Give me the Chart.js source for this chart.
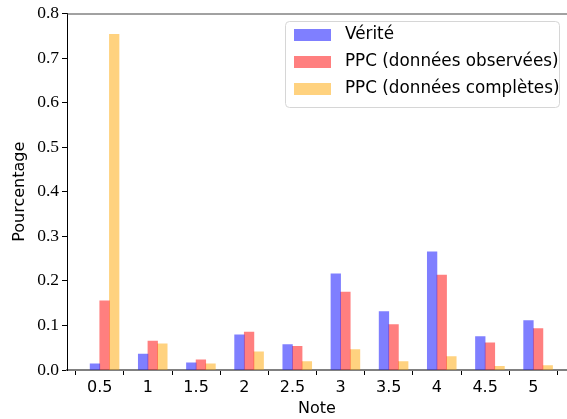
<!DOCTYPE html>
<html>
<head>
<meta charset="utf-8">
<script src="https://cdn.jsdelivr.net/npm/chart.js@4"></script>
<style>
  html, body { margin: 0; padding: 0; background: #fff; overflow: hidden; }
  #wrap { width: 567px; height: 419px; }
</style>
</head>
<body>
<div id="wrap"><canvas id="barChart" width="567" height="419"></canvas></div>
<script>
// notes (x ticks) and the three series
const notes = [0.5, 1, 1.5, 2, 2.5, 3, 3.5, 4, 4.5, 5];
const verite = [0.014, 0.036, 0.016, 0.079, 0.057, 0.216, 0.131, 0.265, 0.075, 0.111];
const ppcObs = [0.155, 0.065, 0.023, 0.085, 0.053, 0.175, 0.102, 0.213, 0.061, 0.093];
const ppcComp = [0.753, 0.059, 0.014, 0.041, 0.019, 0.046, 0.019, 0.030, 0.008, 0.010];
const yTicks = [0, 0.1, 0.2, 0.3, 0.4, 0.5, 0.6, 0.7, 0.8];

const labels = ['Vérité', 'PPC (données observées)', 'PPC (données complètes)'];
const colors = ['rgba(0, 0, 255, 0.5)', 'rgba(255, 0, 0, 0.5)', 'rgba(255, 165, 0, 0.5)'];

// bars are 0.1 wide, blue sits left of the note, red and yellow to the right
const barW = 0.1;
function series(values, shift) {
  return values.map((v, i) => ({ x: notes[i] + shift, y: v }));
}

const frameAndLegend = {
  id: 'frameAndLegend',
  afterDatasetsDraw(chart) {
    const ctx = chart.ctx;
    const area = chart.chartArea;
    ctx.save();
    // top spine
    ctx.strokeStyle = '#444';
    ctx.lineWidth = 1;
    ctx.beginPath();
    ctx.moveTo(area.left, area.top + 0.5);
    ctx.lineTo(area.right, area.top + 0.5);
    ctx.stroke();

    // legend box
    const bx = 285, by = 21, bw = 274, bh = 86, r = 4;
    ctx.beginPath();
    ctx.roundRect(bx + 0.5, by + 0.5, bw, bh, r);
    ctx.fillStyle = 'rgba(255,255,255,0.8)';
    ctx.fill();
    ctx.strokeStyle = '#d6d6d6';
    ctx.stroke();

    ctx.font = '16.8px "DejaVu Sans"';
    ctx.textBaseline = 'middle';
    ctx.textAlign = 'left';
    chart.data.datasets.forEach((ds, i) => {
      const cy = 35 + i * 27;
      ctx.fillStyle = ds.backgroundColor;
      ctx.fillRect(294, cy - 6, 37, 12);
      ctx.fillStyle = '#000';
      ctx.fillText(ds.label, 345, cy);
    });
    ctx.restore();
  }
};

new Chart(document.getElementById('barChart').getContext('2d'), {
  type: 'bar',
  data: {
    datasets: [
      { label: labels[0], data: series(verite, -barW / 2), backgroundColor: colors[0] },
      { label: labels[1], data: series(ppcObs, barW / 2), backgroundColor: colors[1] },
      { label: labels[2], data: series(ppcComp, barW * 1.5), backgroundColor: colors[2] }
    ]
  },
  options: {
    responsive: false,
    animation: false,
    grouped: false,
    categoryPercentage: 1,
    barPercentage: 1,
    layout: {
      padding: { top: 12, bottom: 0, left: 0, right: 0 }
    },
    plugins: {
      legend: { display: false },
      tooltip: { enabled: false }
    },
    scales: {
      x: {
        type: 'linear',
        offset: false,
        min: 0.16,
        max: 5.35,
        afterBuildTicks: (scale) => { scale.ticks = notes.map(v => ({ value: v })); },
        afterFit: (scale) => { scale.height = 49; },
        grid: { drawOnChartArea: false, drawTicks: true, tickLength: 5, color: '#000' },
        border: { color: '#808080', width: 2 },
        ticks: {
          color: '#000',
          padding: 3,
          font: { family: 'DejaVu Sans', size: 16 },
          callback: (v) => String(v)
        },
        title: {
          display: true,
          text: 'Note',
          color: '#000',
          font: { family: 'DejaVu Sans', size: 16 },
          padding: { top: 0, bottom: 1 }
        }
      },
      y: {
        min: 0,
        max: 0.8,
        afterBuildTicks: (scale) => { scale.ticks = yTicks.map(v => ({ value: v })); },
        afterFit: (scale) => { scale.width = 67; },
        grid: { drawOnChartArea: false, drawTicks: true, tickLength: 5, color: '#000' },
        border: { color: '#000', width: 1 },
        ticks: {
          color: '#000',
          padding: 3,
          font: { family: 'Liberation Serif', size: 17.5 },
          callback: (v) => v.toFixed(1)
        },
        title: {
          display: true,
          text: 'Pourcentage',
          color: '#000',
          font: { family: 'DejaVu Sans', size: 16 },
          padding: { top: 10, bottom: 0 }
        }
      }
    }
  },
  plugins: [frameAndLegend]
});
</script>
</body>
</html>
